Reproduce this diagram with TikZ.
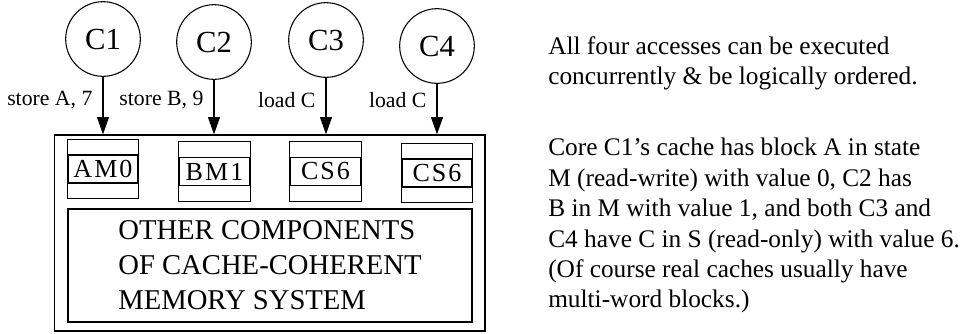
\documentclass[tikz,border=0pt]{standalone}
\usepackage{fontspec}
\setmainfont{Liberation Serif}
\usetikzlibrary{arrows.meta}
\usetikzlibrary{positioning}

\tikzset{
  core/.style={draw, circle, line width=0.8pt, minimum size=56pt, inner sep=0pt,
    font=\fontsize{23}{26}\selectfont},
  req/.style={-{Triangle[length=13pt,width=9pt]}, line width=0.9pt},
  reqlabel/.style={inner sep=0pt, font=\fontsize{16.3}{19}\selectfont},
  blk/.style={draw, line width=1.4pt, minimum width=52.5pt, minimum height=21pt,
    inner sep=0pt, font=\fontsize{19.5}{22}\selectfont\addfontfeature{LetterSpace=8}},
  blkrows/.style={draw, line width=0.8pt},
  note/.style={inner sep=0pt, align=left, font=\fontsize{19}{22.8}\selectfont}
}

\begin{document}
\begin{tikzpicture}[x=0.75pt,y=-0.75pt]
  \useasboundingbox (0,0) rectangle (967,333);
  % cores
  \node[core] (c1) at (103,39) {C1};
  \node[core] (c2) at (214,42) {C2};
  \node[core] (c3) at (326,40) {C3};
  \node[core] (c4) at (437,46) {C4};
  % memory system
  \node[draw, line width=1pt, minimum width=323pt, minimum height=147pt] (mem) at (269.5,233) {};
  \node[draw, line width=0.9pt, minimum width=303pt, minimum height=84.75pt, align=left,
    font=\fontsize{21.5}{26.25}\selectfont] (other) at (270,265.5)
    {OTHER COMPONENTS\\OF CACHE-COHERENT\\MEMORY SYSTEM};
  % cache blocks
  \foreach \n/\x/\y/\t in {ka/103/169/AM0, kb/214.5/171.5/BM1, kc/325.5/171.5/CS6, kd/437/173/CS6} {
    \node[blk] (\n) at (\x,\y) {\t};
    \draw[blkrows] ([yshift=11pt]\n.north west) rectangle ([yshift=-11pt]\n.south east);
  }
  % accesses
  \foreach \c/\p/\t in {c1/0.40/{store A, 7}, c2/0.37/{store B, 9}, c3/0.39/load C, c4/0.32/load C}
    \draw[req] (\c) -- (\c |- mem.north) node[reqlabel, pos=\p, left=7.5pt] {\t};
  % notes
  \node[note, anchor=north west] (n1) at (548,36)
    {All four accesses can be executed\\concurrently \& be logically ordered.};
  \node[note, anchor=north west] (n2) at (548,138)
    {Core C1's cache has block A in state\\M (read-write) with value 0, C2 has\\B in M with value 1, and both C3 and\\C4 have C in S (read-only) with value 6.\\(Of course real caches usually have\\multi-word blocks.)};
\end{tikzpicture}
\end{document}
